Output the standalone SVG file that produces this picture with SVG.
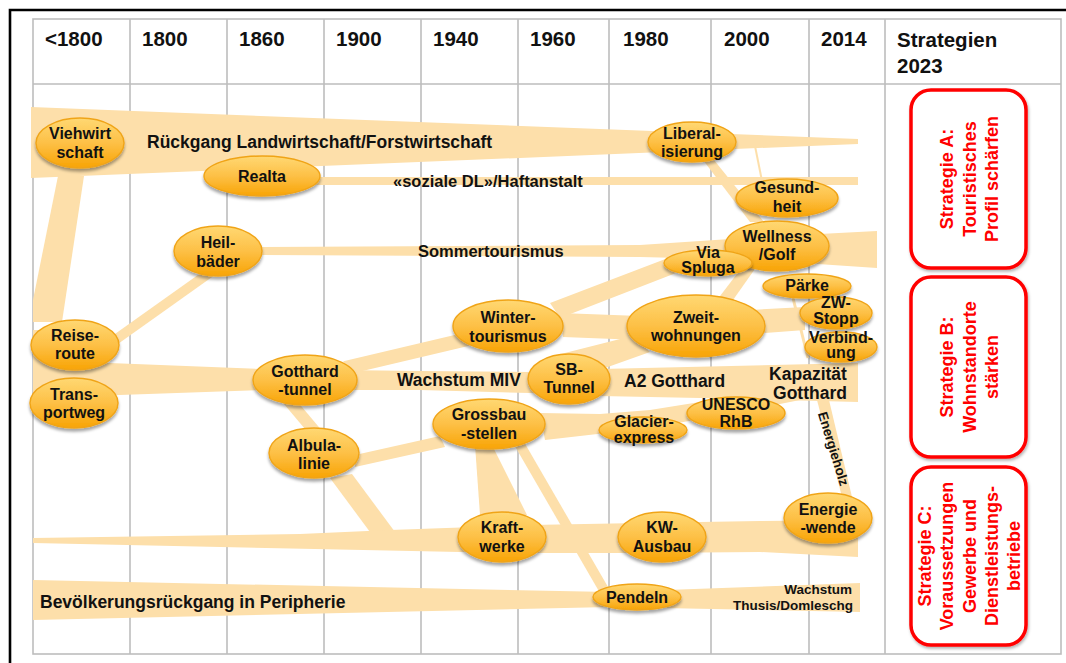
<svg xmlns="http://www.w3.org/2000/svg" width="1066" height="663" viewBox="0 0 1066 663">
<style>
.grid{stroke:#BDBDBD;stroke-width:1.6;fill:none}
.band{fill:#FDDFAA}
.bl{stroke:#FDDFAA;fill:none}
.node ellipse{fill:url(#ng);stroke:#F0A418;stroke-width:1.4;filter:url(#sh)}
.t{font-family:"Liberation Sans",Arial,sans-serif;font-weight:bold;fill:#111}
.nt{font-size:16px;text-anchor:middle}
.hd{font-size:20.5px}
.lb{font-size:17.5px}
.st rect{fill:#fff;stroke:#FF0000;stroke-width:3.5;filter:url(#sh2)}
.stt{font-family:"Liberation Sans",Arial,sans-serif;font-weight:bold;font-size:18px;fill:#FF0000;text-anchor:middle}
</style>
<defs>
<linearGradient id="ng" x1="0" y1="0" x2="0" y2="1">
<stop offset="0" stop-color="#FFD873"/>
<stop offset="0.5" stop-color="#FDC046"/>
<stop offset="1" stop-color="#F8A405"/>
</linearGradient>
<filter id="sh" x="-20%" y="-20%" width="140%" height="160%">
<feDropShadow dx="0" dy="3" stdDeviation="1.8" flood-color="#000" flood-opacity="0.35"/>
</filter>
<filter id="sh2" x="-20%" y="-20%" width="140%" height="140%">
<feDropShadow dx="1" dy="2" stdDeviation="1.5" flood-color="#000" flood-opacity="0.3"/>
</filter>
</defs>
<rect width="1066" height="663" fill="#fff"/>
<path d="M10,663 V10 H1066" stroke="#000" stroke-width="2.6" fill="none"/>
<g id="grid">
<rect class="grid" x="33" y="19" width="1028" height="635"/>
<line class="grid" x1="33" y1="84" x2="1061" y2="84"/>
<path class="grid" d="M130,19V654M227,19V654M324,19V654M421,19V654M518,19V654M609,19V654M711,19V654M809,19V654M885,19V654"/>
</g>
<g id="header">
<text class="t hd" x="45" y="46">&lt;1800</text>
<text class="t hd" x="142" y="46">1800</text>
<text class="t hd" x="239" y="46">1860</text>
<text class="t hd" x="336" y="46">1900</text>
<text class="t hd" x="433" y="46">1940</text>
<text class="t hd" x="530" y="46">1960</text>
<text class="t hd" x="623" y="46">1980</text>
<text class="t hd" x="724" y="46">2000</text>
<text class="t hd" x="821" y="46">2014</text>
<text class="t hd" x="897" y="47">Strategien</text>
<text class="t hd" x="897" y="73">2023</text>
</g>
<g id="connectors">
<polygon class="band" points="31,107 858,139 858,144 31,178"/>
<polygon class="band" points="58,176 84,176 62,322 33,322 33,300"/>
<rect class="band" x="33" y="330" width="14" height="80"/>
<rect class="band" x="262" y="177" width="596" height="8"/>
<polygon class="band" points="262,247 640,245 760,237 877,231 877,268 760,260 640,257 262,255"/>
<line class="bl" x1="115" y1="340" x2="212" y2="271" stroke-width="10"/>
<polygon class="band" points="33,360 260,369 420,371 530,372 600,369 858,363 858,402 700,398 600,396 530,393 420,390 260,390 33,398"/>
<line class="bl" x1="285" y1="396" x2="322" y2="440" stroke-width="12"/>
<polygon class="band" points="330,478 352,474 395,532 370,532"/>
<line class="bl" x1="345" y1="368" x2="472" y2="338" stroke-width="14"/>
<polygon class="band" points="355,455 440,436 445,447 355,467"/>
<polygon class="band" points="475,445 492,445 527,515 480,515"/>
<line class="bl" x1="520" y1="445" x2="604" y2="590" stroke-width="10"/>
<polygon class="band" points="540,413 600,414 650,410 700,402 770,396 800,400 770,406 700,419 650,428 545,440"/>
<polygon class="band" points="550,303 668,258 676,273 560,318"/>
<polygon class="band" points="560,313 640,316 805,307 805,330 765,333 640,340 563,337"/>
<polygon class="band" points="545,358 632,336 650,352 605,368"/>
<polygon class="band" points="717,300 733,300 757,266 743,266"/>
<polygon class="band" points="703,160 714,160 764,222 750,222"/>
<line class="bl" x1="755" y1="146" x2="762" y2="181" stroke-width="2"/>
<line class="bl" x1="793" y1="298" x2="808" y2="358" stroke-width="3"/>
<polygon class="band" points="817,400 829,400 852,497 842,497"/>
<polygon class="band" points="33,538 300,534 390,530 530,525 640,523 760,521 858,520 858,557 760,552 640,553 530,553 460,552 33,543"/>
<polygon class="band" points="33,580 610,592 860,583 860,612 610,607 33,620"/>
</g>
<g id="labels">
<text class="t lb" x="147" y="148">Rückgang Landwirtschaft/Forstwirtschaft</text>
<text class="t" x="393" y="187" font-size="16.5">«soziale DL»/Haftanstalt</text>
<text class="t" x="418" y="257" font-size="16.5">Sommertourismus</text>
<text class="t lb" x="397" y="386">Wachstum MIV</text>
<text class="t lb" x="624" y="387">A2 Gotthard</text>
<text class="t lb" x="808" y="380" text-anchor="middle">Kapazität</text>
<text class="t lb" x="810" y="399" text-anchor="middle">Gotthard</text>
<text class="t" font-size="13.5" text-anchor="middle" transform="translate(829,450) rotate(73)">Energieholz</text>
<text class="t" x="852" y="594" font-size="13.5" text-anchor="end">Wachstum</text>
<text class="t" x="853" y="610" font-size="13.5" text-anchor="end">Thusis/Domleschg</text>
<text class="t lb" x="40" y="608">Bevölkerungsrückgang in Peripherie</text>
</g>
<g id="n-viehwirtschaft" class="node"><ellipse cx="80" cy="143" rx="44" ry="25"/><text class="t nt" x="80" y="139">Viehwirt</text><text class="t nt" x="80" y="158">schaft</text></g>
<g id="n-realta" class="node"><ellipse cx="262" cy="176" rx="58" ry="20"/><text class="t nt" x="262" y="182">Realta</text></g>
<g id="n-heilbaeder" class="node"><ellipse cx="218" cy="251" rx="44" ry="25"/><text class="t nt" x="218" y="248">Heil-</text><text class="t nt" x="218" y="267">bäder</text></g>
<g id="n-liberalisierung" class="node"><ellipse cx="692" cy="142" rx="44" ry="20"/><text class="t nt" x="692" y="139">Liberal-</text><text class="t nt" x="692" y="157">isierung</text></g>
<g id="n-gesundheit" class="node"><ellipse cx="787" cy="198" rx="51" ry="19"/><text class="t nt" x="787" y="193">Gesund-</text><text class="t nt" x="787" y="212">heit</text></g>
<g id="n-wellness" class="node"><ellipse cx="777" cy="246" rx="52" ry="25"/><text class="t nt" x="777" y="242" font-size="16.5">Wellness</text><text class="t nt" x="777" y="260" font-size="16.5">/Golf</text></g>
<g id="n-viaspluga" class="node"><ellipse cx="708" cy="263" rx="44" ry="13"/><text class="t nt" x="708" y="258" font-size="11.5">Via</text><text class="t nt" x="708" y="273" font-size="11.5">Spluga</text></g>
<g id="n-paerke" class="node"><ellipse cx="807" cy="286" rx="44" ry="12"/><text class="t nt" x="807" y="291" font-size="15">Pärke</text></g>
<g id="n-zwstopp" class="node"><ellipse cx="836" cy="313" rx="36" ry="16"/><text class="t nt" x="836" y="308" font-size="12.5">ZW-</text><text class="t nt" x="836" y="324" font-size="12.5">Stopp</text></g>
<g id="n-verbindung" class="node"><ellipse cx="841" cy="347" rx="36" ry="15"/><text class="t nt" x="841" y="343" font-size="12.5">Verbind-</text><text class="t nt" x="841" y="358" font-size="12.5">ung</text></g>
<g id="n-zweitwohnungen" class="node"><ellipse cx="696" cy="326" rx="69" ry="31"/><text class="t nt" x="696" y="323" font-size="16.5">Zweit-</text><text class="t nt" x="696" y="341" font-size="16.5">wohnungen</text></g>
<g id="n-wintertourismus" class="node"><ellipse cx="508" cy="326" rx="55" ry="26"/><text class="t nt" x="508" y="323">Winter-</text><text class="t nt" x="508" y="342">tourismus</text></g>
<g id="n-sbtunnel" class="node"><ellipse cx="569" cy="379" rx="41" ry="25"/><text class="t nt" x="569" y="375">SB-</text><text class="t nt" x="569" y="393">Tunnel</text></g>
<g id="n-grossbaustellen" class="node"><ellipse cx="489" cy="424" rx="56" ry="25"/><text class="t nt" x="489" y="420">Grossbau</text><text class="t nt" x="489" y="439">-stellen</text></g>
<g id="n-glacierexpress" class="node"><ellipse cx="643" cy="430" rx="44" ry="13"/><text class="t nt" x="644" y="427">Glacier-</text><text class="t nt" x="644" y="443">express</text></g>
<g id="n-unesco" class="node"><ellipse cx="736" cy="413" rx="49" ry="16"/><text class="t nt" x="736" y="410" font-size="16.5">UNESCO</text><text class="t nt" x="736" y="427" font-size="16.5">RhB</text></g>
<g id="n-gotthardtunnel" class="node"><ellipse cx="305" cy="380" rx="52" ry="25"/><text class="t nt" x="305" y="377">Gotthard</text><text class="t nt" x="305" y="395">-tunnel</text></g>
<g id="n-albulalinie" class="node"><ellipse cx="314" cy="453" rx="45" ry="25"/><text class="t nt" x="314" y="451">Albula-</text><text class="t nt" x="314" y="469">linie</text></g>
<g id="n-reiseroute" class="node"><ellipse cx="75" cy="345" rx="44" ry="25"/><text class="t nt" x="75" y="341">Reise-</text><text class="t nt" x="75" y="359">route</text></g>
<g id="n-transportweg" class="node"><ellipse cx="74" cy="403" rx="44" ry="25"/><text class="t nt" x="74" y="400">Trans-</text><text class="t nt" x="74" y="418">portweg</text></g>
<g id="n-kraftwerke" class="node"><ellipse cx="502" cy="537" rx="44" ry="25"/><text class="t nt" x="502" y="533">Kraft-</text><text class="t nt" x="502" y="552">werke</text></g>
<g id="n-kwausbau" class="node"><ellipse cx="662" cy="537" rx="44" ry="25"/><text class="t nt" x="662" y="533">KW-</text><text class="t nt" x="662" y="552">Ausbau</text></g>
<g id="n-energiewende" class="node"><ellipse cx="828" cy="518" rx="44" ry="25"/><text class="t nt" x="828" y="515">Energie</text><text class="t nt" x="828" y="533">-wende</text></g>
<g id="n-pendeln" class="node"><ellipse cx="637" cy="597" rx="44" ry="13"/><text class="t nt" x="637" y="603">Pendeln</text></g>
<g id="s-a" class="st"><rect x="911" y="90" width="115" height="178" rx="20"/>
<text class="stt" transform="translate(953,179) rotate(-90)">Strategie A:</text>
<text class="stt" transform="translate(976,179) rotate(-90)">Touristisches</text>
<text class="stt" transform="translate(998,179) rotate(-90)">Profil schärfen</text></g>
<g id="s-b" class="st"><rect x="911" y="277" width="115" height="180" rx="20"/>
<text class="stt" transform="translate(953,367) rotate(-90)">Strategie B:</text>
<text class="stt" transform="translate(976,367) rotate(-90)">Wohnstandorte</text>
<text class="stt" transform="translate(998,367) rotate(-90)">stärken</text></g>
<g id="s-c" class="st"><rect x="911" y="467" width="115" height="178" rx="20"/>
<text class="stt" transform="translate(931,556) rotate(-90)">Strategie C:</text>
<text class="stt" transform="translate(953,556) rotate(-90)">Voraussetzungen</text>
<text class="stt" transform="translate(976,556) rotate(-90)">Gewerbe und</text>
<text class="stt" transform="translate(998,556) rotate(-90)">Dienstleistungs-</text>
<text class="stt" transform="translate(1020,556) rotate(-90)">betriebe</text></g>
</svg>
